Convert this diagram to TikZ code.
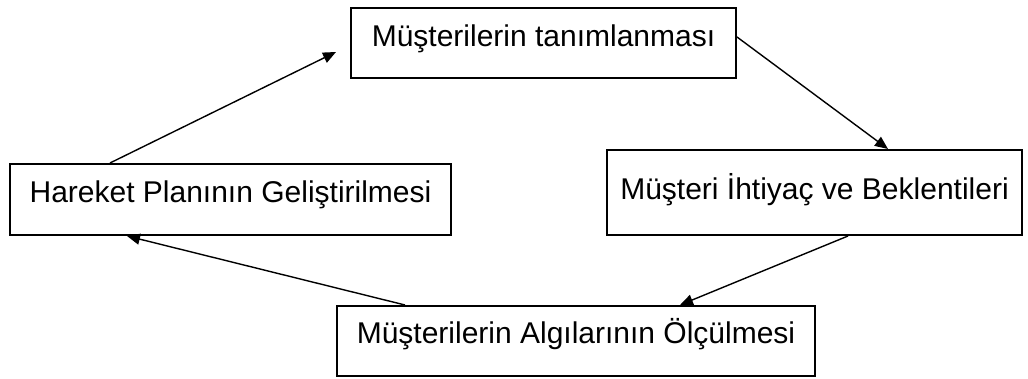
\documentclass[tikz,border=0pt]{standalone}
\usepackage{fontspec}
\setmainfont{Liberation Sans}
\usetikzlibrary{arrows.meta}
\tikzset{
  stage/.style={draw=black, line width=2pt, inner xsep=0pt, inner ysep=0pt,
    font=\fontsize{30}{36}\selectfont, align=center},
  flow/.style={line width=1.4pt, -{Triangle[length=13pt,width=11pt]}},
}
\begin{document}
\begin{tikzpicture}[x=1pt,y=-1pt]
\useasboundingbox (0,0) rectangle (1028,379);
% the four stages of the cycle
\node[stage, minimum width=385pt, text height=39pt, text depth=31pt] (top) at (543.5,43) {Müşterilerin tanımlanması};
\node[stage, minimum width=415pt, text height=50pt, text depth=35pt] (right) at (814.5,192.5) {Müşteri İhtiyaç ve Beklentileri};
\node[stage, minimum width=441pt, text height=39pt, text depth=32pt] (left) at (230.5,199.5) {Hareket Planının Geliştirilmesi};
\node[stage, minimum width=478pt, text height=37pt, text depth=33pt] (bottom) at (576,341) {Müşterilerin Algılarının Ölçülmesi};
% connectors going round the cycle
\draw[flow] ([yshift=6pt]top.east) -- ([xshift=73.5pt]right.north);
\draw[flow] ([xshift=33.5pt]right.south) -- ([xshift=104pt]bottom.north);
\draw[flow] ([xshift=-171pt]bottom.north) -- ([xshift=-103.5pt]left.south);
\draw[flow] ([xshift=-120.5pt]left.north) -- ([xshift=-14pt,yshift=-9pt]top.west);
\end{tikzpicture}
\end{document}
